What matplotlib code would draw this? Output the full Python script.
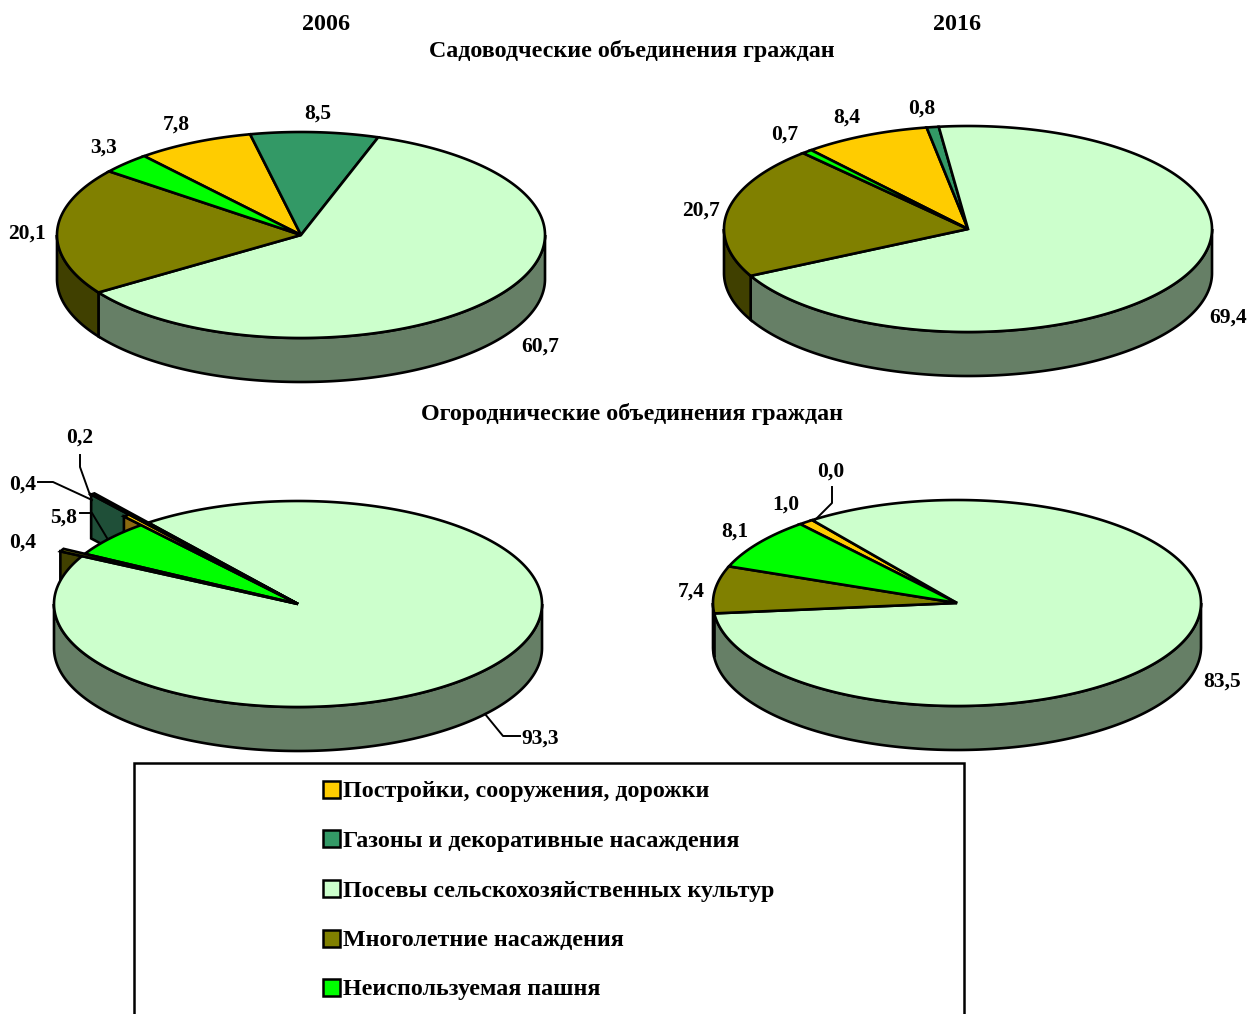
import numpy as np
import matplotlib
matplotlib.use("Agg")
import matplotlib.pyplot as plt
from matplotlib.patches import Polygon, Rectangle

plt.rcParams['font.family'] = ['Liberation Serif', 'DejaVu Serif']

# slice order as in the legend
categories = ["Постройки, сооружения, дорожки",
              "Газоны и декоративные насаждения",
              "Посевы сельскохозяйственных культур",
              "Многолетние насаждения",
              "Неиспользуемая пашня"]
years = ["2006", "2016"]
group_titles = ["Садоводческие объединения граждан", "Огороднические объединения граждан"]

sad_2006 = [7.8, 8.5, 60.7, 20.1, 3.3]
sad_2016 = [8.4, 0.8, 69.4, 20.7, 0.7]
ogo_2006 = [0.4, 0.2, 93.3, 0.4, 5.8]
ogo_2016 = [1.0, 0.0, 83.5, 7.4, 8.1]

colors = ["#FFCC00", "#339966", "#CCFFCC", "#808000", "#00FF00"]
side_colors = ["#8C6A10", "#1F4F38", "#667F66", "#404000", "#008000"]

W, H = 1251, 1014
RX, RY, DEPTH = 244, 103, 44
START = -40.0
LW = 1.9
FS = 15.5
FS_BIG = 17.3

fig = plt.figure(figsize=(W / 100, H / 100), dpi=100)
ax = fig.add_axes([0, 0, 1, 1])
ax.set_xlim(0, W)
ax.set_ylim(H, 0)
ax.axis("off")


def rim(cx, cy, a, b, r=1.0, drop=0):
    t = np.radians(np.linspace(a, b, max(int(abs(b - a) * 2), 2)))
    return np.column_stack([cx + RX * r * np.sin(t), cy - RY * r * np.cos(t) + drop])


def pie3d(cx, cy, values, stretch=None):
    # stretch : thin slices that stick out of the pie, excel draws them like that
    stretch = stretch or {}
    edges = START + np.cumsum([0] + list(values)) * 360.0 / sum(values)

    # cut faces of the stretched slices go behind everything
    for i in sorted(stretch, key=lambda k: -stretch[k]):
        tip = rim(cx, cy, edges[i], edges[i], stretch[i])[0]
        pts = [(cx, cy), tip, (tip[0], tip[1] + DEPTH), (cx, cy + DEPTH)]
        ax.add_patch(Polygon(pts, fc=side_colors[i], ec="black", lw=LW, zorder=2))

    # outer wall, front half only
    for i, v in enumerate(values):
        a, b = max(edges[i], 90), min(edges[i + 1], 270)
        if b <= a:
            continue
        pts = np.vstack([rim(cx, cy, a, b), rim(cx, cy, b, a, drop=DEPTH)])
        ax.add_patch(Polygon(pts, fc=side_colors[i], ec="black", lw=LW, zorder=3))

    # top faces
    for i, v in enumerate(values):
        if v == 0:
            continue
        r = stretch.get(i, 1.0)
        pts = np.vstack([[(cx, cy)], rim(cx, cy, edges[i], edges[i + 1], r)])
        z = 5 if i in stretch else 4
        ax.add_patch(Polygon(pts, fc=colors[i], ec="black", lw=LW, joinstyle="miter", zorder=z))


pie3d(301, 235, sad_2006)
pie3d(968, 229, sad_2016)
pie3d(298, 604, ogo_2006, stretch={0: 1.11, 1: 1.36, 3: 1.10})
pie3d(957, 603, ogo_2016)


def fmt(v):
    return f"{v:.1f}".replace(".", ",")


def put(x, y, s, fs=FS, ha="center"):
    ax.text(x, y + 2, s, fontsize=fs, fontweight="bold", ha=ha, va="center", zorder=8)


# labels
label_pos = {
    "sad_2006": [(176, 123), (318, 112), (540, 345), (27, 232), (104, 146)],
    "sad_2016": [(847, 116), (922, 107), (1228, 316), (701, 209), (785, 133)],
    "ogo_2006": [(23, 483), (80, 436), (540, 737), (23, 541), (64, 516)],
    "ogo_2016": [(786, 503), (831, 470), (1222, 680), (691, 590), (735, 530)],
}
for key, vals in [("sad_2006", sad_2006), ("sad_2016", sad_2016),
                  ("ogo_2006", ogo_2006), ("ogo_2016", ogo_2016)]:
    for (x, y), v in zip(label_pos[key], vals):
        put(x, y, fmt(v))

# leaders
leaders = [[(80, 455), (80, 467), (90, 495)],
           [(38, 482), (53, 482), (92, 500)],
           [(80, 513), (92, 513), (107, 538)],
           [(520, 736), (503, 736), (485, 714)],
           [(832, 487), (832, 503), (814, 521)]]
for line in leaders:
    xs, ys = zip(*line)
    ax.plot(xs, ys, color="black", lw=1.4, zorder=6)

# headers
put(326, 22, years[0], fs=FS_BIG)
put(957, 22, years[1], fs=FS_BIG)
put(632, 49, group_titles[0], fs=FS_BIG)
put(632, 412, group_titles[1], fs=FS_BIG)

# legend, the box runs past the bottom of the picture
ax.add_patch(Rectangle((134, 763), 830, 300, fc="white", ec="black", lw=1.8, zorder=1))
rows = [790, 839, 889, 939, 988]
for y, name, c in zip(rows, categories, colors):
    ax.add_patch(Rectangle((323, y - 9), 17, 17, fc=c, ec="black", lw=1.8, zorder=2))
    put(343, y, name, fs=FS_BIG, ha="left")

fig.savefig("out.png", dpi=100)
